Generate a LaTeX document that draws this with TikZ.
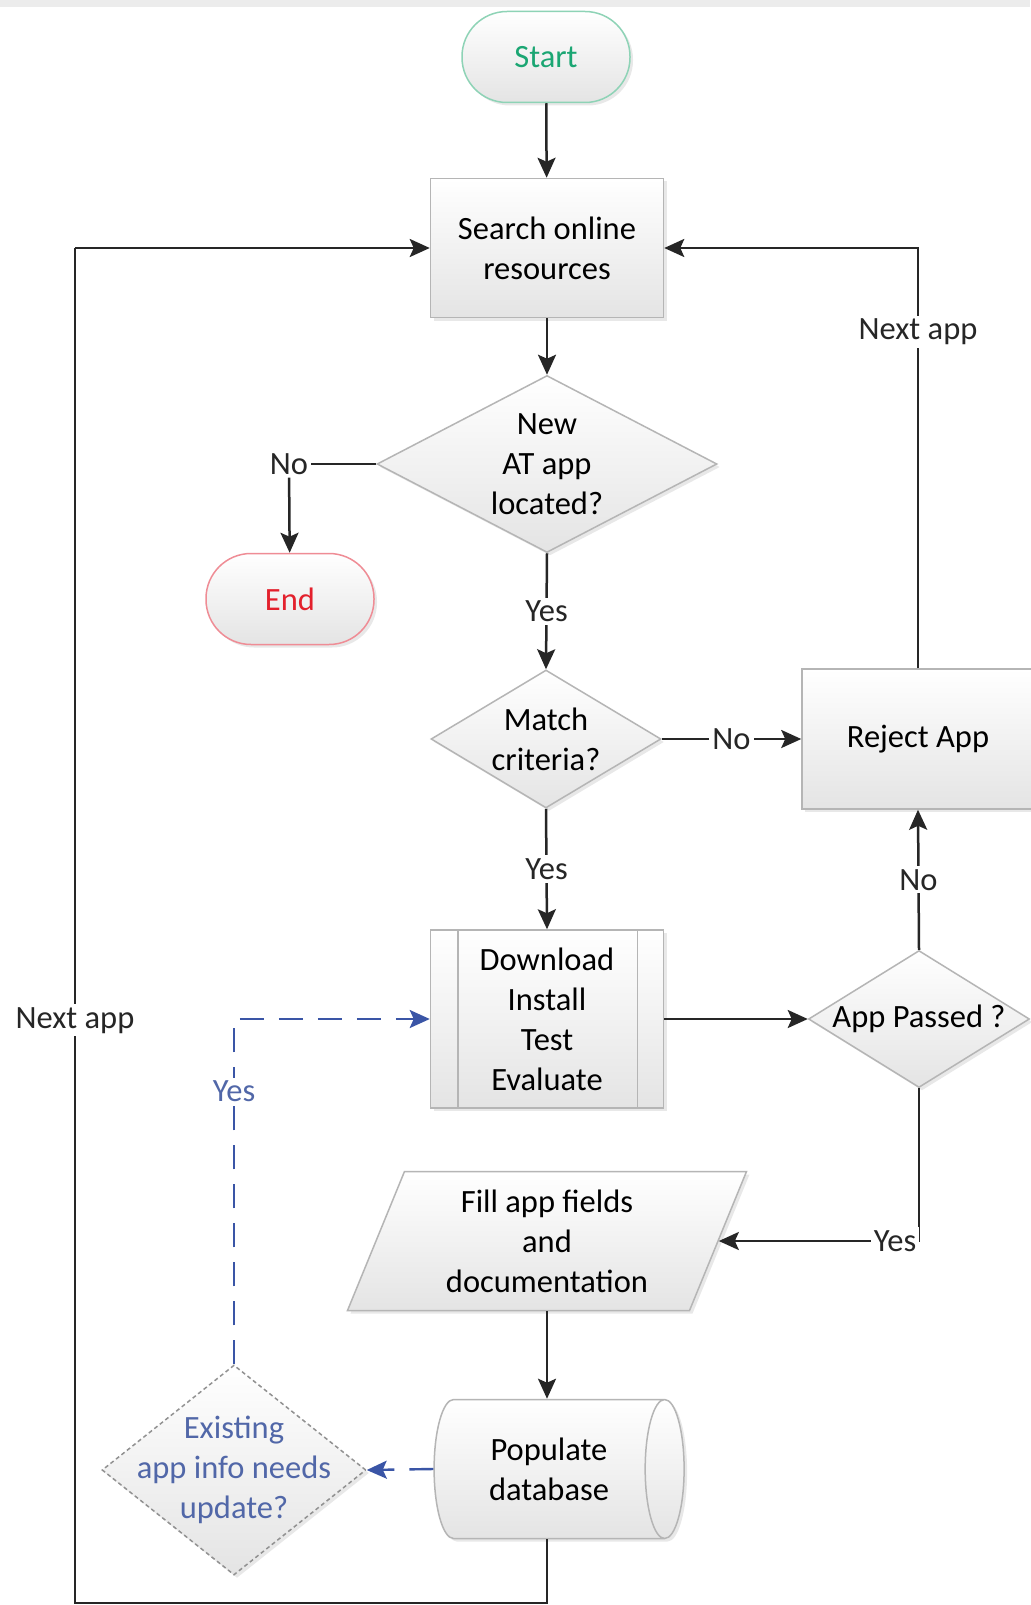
\documentclass[tikz,border=0pt]{standalone}
\usepackage{fontspec}
\setmainfont{Carlito}
\usetikzlibrary{shapes.geometric,arrows.meta,shadows}

\definecolor{startgreen}{HTML}{1BA673}
\definecolor{startedge}{HTML}{8ED3B6}
\definecolor{endred}{HTML}{E3202C}
\definecolor{endedge}{HTML}{EF8C95}
\definecolor{boxedge}{HTML}{B5B5B5}
\definecolor{boxfill}{HTML}{E4E4E4}
\definecolor{linkblue}{HTML}{3A55A6}
\definecolor{textblue}{HTML}{5167A8}
\definecolor{flowline}{HTML}{262626}

\newcommand{\flowfont}{\fontsize{32.5}{40}\selectfont}

\tikzset{
  base/.style={draw=boxedge, line width=1.5pt, top color=white, bottom color=boxfill,
    font=\flowfont, align=center, inner sep=0pt,
    drop shadow={shadow xshift=3pt, shadow yshift=-3pt, opacity=.18}},
  terminal/.style={base, rounded corners=45pt, minimum width=168pt, minimum height=91pt},
  process/.style={base, minimum width=233pt, minimum height=139pt},
  subprocess/.style={process, minimum height=178pt},
  decision/.style={base, diamond},
  dectext/.style={font=\flowfont, align=center, inner sep=0pt},
  iobox/.style={base, trapezium, trapezium left angle=61, trapezium right angle=119,
    trapezium stretches body, minimum width=399pt, minimum height=139pt},
  % cylinder sizes are given along its own axis
  store/.style={base, cylinder, aspect=0.62, minimum width=139pt, minimum height=250pt},
  line/.style={draw=flowline, line width=2.5pt},
  arrow/.style={line, -{Stealth[length=20pt, width=18pt, inset=4pt]}},
  link/.style={draw=linkblue, line width=2.4pt, dash pattern=on 24pt off 15pt,
    -{Stealth[length=20pt, width=18pt, inset=4pt]}},
  lbl/.style={fill=white, inner sep=3pt, font=\flowfont, text=flowline},
}

\begin{document}
\begin{tikzpicture}[x=1pt, y=-1pt]
\useasboundingbox (0,0) rectangle (1030,1605);
\fill[white] (0,0) rectangle (1030,1605);
\fill[gray!15] (0,0) rectangle (1030,7);

% main column
\node[terminal, draw=startedge, text=startgreen] (start) at (546,57) {Start};
\node[process] (search) at (547,248) {Search online\\resources};
\node[decision, minimum width=340pt, minimum height=177pt,
  label={[dectext]center:{New\\AT app\\located?}}] (new) at (547,464) {};
\node[terminal, draw=endedge, text=endred] (end) at (290,599) {End};
\node[decision, minimum width=230pt, minimum height=138pt,
  label={[dectext]center:{Match\\criteria?}}] (match) at (546,739) {};
\node[process, minimum width=232pt, minimum height=140pt] (reject) at (918,739) {Reject App};
\node[subprocess] (dl) at (547,1019) {Download\\Install\\Test\\Evaluate};
\draw[draw=boxedge, line width=1.5pt] ([xshift=28pt]dl.north west) -- ([xshift=28pt]dl.south west);
\draw[draw=boxedge, line width=1.5pt] ([xshift=-27pt]dl.north east) -- ([xshift=-27pt]dl.south east);
\node[decision, minimum width=221pt, minimum height=137pt,
  label={[dectext]center:{App Passed ?}}] (passed) at (919,1019) {};
\node[iobox] (fill) at (547,1241) {Fill app fields\\and\\documentation};
\node[store] (pop) at (549,1469) {Populate\\database};
\node[decision, draw=boxedge!80!black, dashed, dash pattern=on 4pt off 3pt,
  minimum width=264pt, minimum height=210pt,
  label={[dectext, text=textblue]center:{Existing\\app info needs\\update?}}] (exist) at (234,1470) {};

% loop corners
\coordinate (loop-bl) at (75,1603);
\coordinate (loop-tl) at (75,248);
\coordinate (dl-in) at (234,1019);
\node[lbl] (no-end) at (289,464) {No};

% connectors
\draw[arrow] (start) -- (search);
\draw[arrow] (search) -- (new);
\draw[line] (new.west) -- (no-end);
\draw[arrow] (no-end) -- (end);
\draw[arrow] (new.south) -- node[lbl]{Yes} (match.north);
\draw[arrow] (match.east) -- node[lbl]{No} (reject.west);
\draw[arrow] (reject.north) |- node[lbl, pos=0.4]{Next app} (search.east);
\draw[arrow] (match.south) -- node[lbl]{Yes} (dl.north);
\draw[arrow] (dl.east) -- (passed.west);
\draw[arrow] (passed.north) -- node[lbl]{No} (reject.south);
\draw[arrow] (passed.south) |- node[lbl, pos=0.56]{Yes} (fill.east);
\draw[arrow] (fill.south) -- (fill.south |- pop.north);
\draw[line] (fill.south |- pop.south) |- (loop-bl) -- node[lbl, pos=0.43]{Next app} (loop-tl);
\draw[arrow] (loop-tl) -- (search.west);
\draw[link] (pop.west) -- (exist.east);
\draw[link] (exist.north) -- node[lbl, pos=0.79, text=textblue]{Yes} (dl-in) -- (dl.west);
\end{tikzpicture}
\end{document}
